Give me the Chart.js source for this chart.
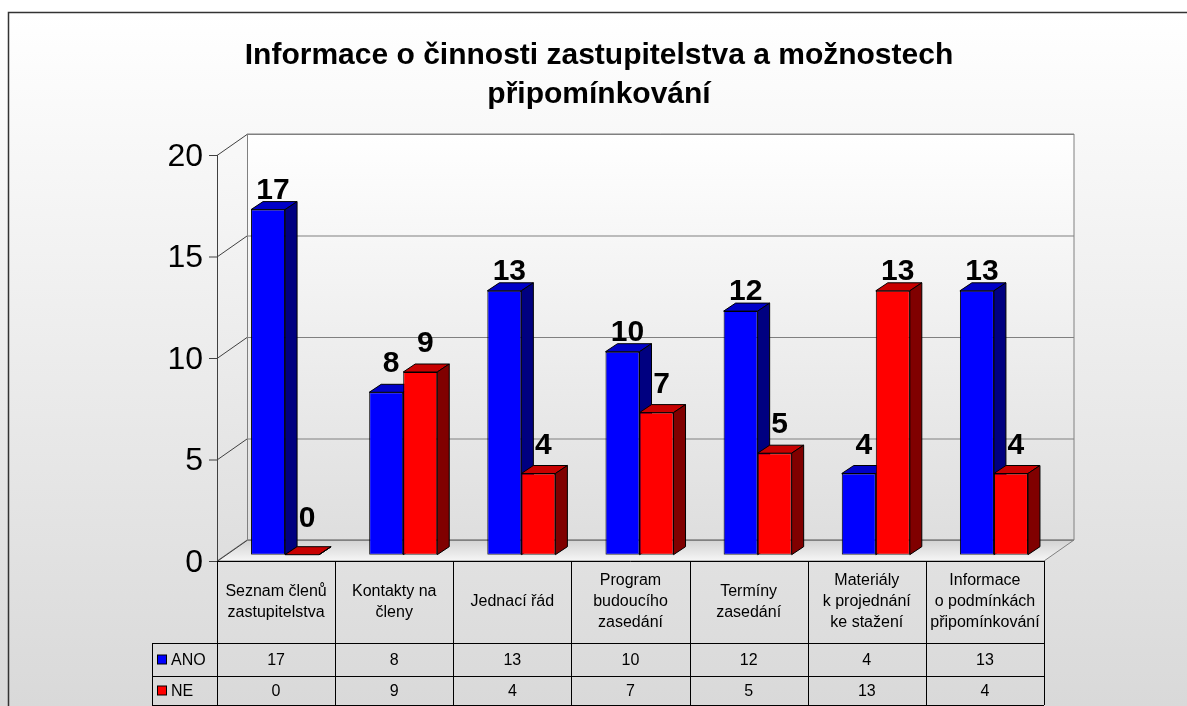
<!DOCTYPE html>
<html>
<head>
<meta charset="utf-8">
<script src="https://cdn.jsdelivr.net/npm/chart.js@4.4.1/dist/chart.umd.min.js"></script>
<style>
  body { margin: 0; background: #fff; }
  canvas { display: block; }
</style>
</head>
<body>
<canvas id="chart" width="1187" height="706"></canvas>
<script>
// --- data ---
const categories = [
  ['Seznam členů', 'zastupitelstva'],
  ['Kontakty na', 'členy'],
  ['Jednací řád'],
  ['Program', 'budoucího', 'zasedání'],
  ['Termíny', 'zasedání'],
  ['Materiály', 'k projednání', 'ke stažení'],
  ['Informace', 'o podmínkách', 'připomínkování']
];
const anoValues = [17, 8, 13, 10, 12, 4, 13];
const neValues = [0, 9, 4, 7, 5, 13, 4];
const yTicks = [0, 5, 10, 15, 20];
const titleLines = ['Informace o činnosti zastupitelstva a možnostech', 'připomínkování'];

const FONT = '"Liberation Sans", Arial, sans-serif';

// 3D look: offsets in px
const WALL_DX = 30, WALL_DY = -21;     // front plane -> back wall
const BAR_OFF_X = 9, BAR_OFF_Y = -6.3; // front plane -> bar front face
const BAR_DX = 12, BAR_DY = -8;        // bar depth

const faceColors = [
  { front: '#0000ff', top: '#0000c8', side: '#000080' },
  { front: '#ff0000', top: '#c80000', side: '#800000' }
];

function poly(ctx, pts, fill, stroke) {
  ctx.beginPath();
  ctx.moveTo(pts[0][0], pts[0][1]);
  for (let i = 1; i < pts.length; i++) ctx.lineTo(pts[i][0], pts[i][1]);
  ctx.closePath();
  if (fill) { ctx.fillStyle = fill; ctx.fill(); }
  if (stroke) { ctx.strokeStyle = stroke; ctx.lineWidth = 1; ctx.stroke(); }
}

function line(ctx, x0, y0, x1, y1, color, w) {
  ctx.beginPath();
  ctx.moveTo(x0, y0);
  ctx.lineTo(x1, y1);
  ctx.strokeStyle = color;
  ctx.lineWidth = w || 1;
  ctx.stroke();
}

// front plane helpers
function geom(chart) {
  const ca = chart.chartArea;
  const y = chart.scales.y;
  const fx0 = ca.left - BAR_OFF_X, fx1 = ca.right - BAR_OFF_X;
  const fy = v => y.getPixelForValue(v) - BAR_OFF_Y;
  return { fx0, fx1, fy, bx0: fx0 + WALL_DX, bx1: fx1 + WALL_DX, by: v => fy(v) + WALL_DY };
}

const plot3d = {
  id: 'plot3d',
  beforeDraw(chart) {
    const { ctx, width, height } = chart;
    ctx.save();
    const bg = ctx.createLinearGradient(0, 12, 0, height);
    bg.addColorStop(0, '#ffffff');
    bg.addColorStop(1, '#d9d9d9');
    ctx.fillStyle = bg;
    ctx.fillRect(0, 0, width, height);

    ctx.beginPath();
    ctx.moveTo(8.5, height + 2);
    ctx.lineTo(8.5, 12.5);
    ctx.lineTo(width + 2, 12.5);
    ctx.strokeStyle = '#333';
    ctx.lineWidth = 1.5;
    ctx.stroke();

    ctx.fillStyle = '#000';
    ctx.font = 'bold 30px ' + FONT;
    ctx.textAlign = 'center';
    ctx.textBaseline = 'alphabetic';
    titleLines.forEach((t, i) => ctx.fillText(t, 599, 64 + i * 39));
    ctx.restore();
  },

  beforeDatasetsDraw(chart) {
    const { ctx } = chart;
    const g = geom(chart);
    const vMax = yTicks[yTicks.length - 1], vMin = yTicks[0];
    ctx.save();

    // back wall
    const wg = ctx.createLinearGradient(0, g.by(vMax), 0, g.by(vMin));
    wg.addColorStop(0, '#ffffff');
    wg.addColorStop(1, '#dedede');
    poly(ctx, [[g.bx0, g.by(vMax)], [g.bx1, g.by(vMax)], [g.bx1, g.by(vMin)], [g.bx0, g.by(vMin)]], wg, '#808080');

    // side wall
    const sg = ctx.createLinearGradient(0, g.fy(vMax), 0, g.fy(vMin));
    sg.addColorStop(0, '#f8f8f8');
    sg.addColorStop(1, '#dedede');
    poly(ctx, [[g.fx0, g.fy(vMax)], [g.bx0, g.by(vMax)], [g.bx0, g.by(vMin)], [g.fx0, g.fy(vMin)]], sg, null);

    // floor
    const fg = ctx.createLinearGradient(0, g.by(vMin), 0, g.fy(vMin));
    fg.addColorStop(0, '#d2d2d2');
    fg.addColorStop(1, '#f6f6f6');
    poly(ctx, [[g.fx0, g.fy(vMin)], [g.fx1, g.fy(vMin)], [g.bx1, g.by(vMin)], [g.bx0, g.by(vMin)]], fg, '#808080');

    // gridlines + ticks
    yTicks.forEach(v => {
      line(ctx, g.bx0, g.by(v) + 0.5, g.bx1, g.by(v) + 0.5, '#808080', 1.2);
      line(ctx, g.fx0, g.fy(v) + 0.5, g.bx0, g.by(v) + 0.5, '#404040', 1);
      line(ctx, g.fx0 - 8, g.fy(v) + 0.5, g.fx0, g.fy(v) + 0.5, '#404040', 1);
    });
    line(ctx, g.bx0 + 0.5, g.by(vMax), g.bx0 + 0.5, g.by(vMin), '#808080', 1);
    line(ctx, g.fx0 + 0.5, g.fy(vMax), g.fx0 + 0.5, g.fy(vMin), '#404040', 1);

    // tick labels
    ctx.fillStyle = '#000';
    ctx.font = '32px ' + FONT;
    ctx.textAlign = 'right';
    ctx.textBaseline = 'middle';
    yTicks.forEach(v => ctx.fillText(String(v), g.fx0 - 14, g.fy(v) + 2));

    // bar tops and sides (fronts drawn by Chart.js)
    chart.data.datasets.forEach((ds, di) => {
      const c = faceColors[di];
      chart.getDatasetMeta(di).data.forEach(el => {
        const l = el.x - el.width / 2, r = el.x + el.width / 2;
        poly(ctx, [[l, el.y], [l + BAR_DX, el.y + BAR_DY], [r + BAR_DX, el.y + BAR_DY], [r, el.y]], c.top, '#000');
        poly(ctx, [[r, el.y], [r + BAR_DX, el.y + BAR_DY], [r + BAR_DX, el.base + BAR_DY], [r, el.base]], c.side, '#000');
      });
    });
    ctx.restore();
  },

  afterDatasetsDraw(chart) {
    const { ctx } = chart;
    ctx.save();
    ctx.fillStyle = '#000';
    ctx.font = 'bold 30px ' + FONT;
    ctx.textAlign = 'center';
    ctx.textBaseline = 'alphabetic';
    chart.data.datasets.forEach((ds, di) => {
      chart.getDatasetMeta(di).data.forEach((el, i) => {
        const v = ds.data[i];
        const gap = v >= 10 ? 3 : (v > 0 ? 12 : 20);
        ctx.fillText(String(v), el.x + 5, el.y + BAR_DY - gap);
      });
    });
    ctx.restore();
  },

  afterDraw(chart) {
    const { ctx } = chart;
    const g = geom(chart);
    const xs = chart.scales.x;
    const half = (g.fx1 - g.fx0) / categories.length / 2;
    const yHead = g.fy(0), yAno = yHead + 82, yNe = yAno + 33, yEnd = yNe + 29;
    const legX = 152;
    ctx.save();

    // grid
    [yHead, yAno, yNe, yEnd].forEach((yy, k) =>
      line(ctx, k === 0 ? g.fx0 : legX, Math.round(yy) + 0.5, g.fx1, Math.round(yy) + 0.5, '#000', 1));
    line(ctx, legX + 0.5, yAno, legX + 0.5, yEnd, '#000', 1);
    for (let i = 0; i <= categories.length; i++) {
      const x = Math.round(g.fx0 + i * half * 2) + 0.5;
      line(ctx, x, yHead, x, yEnd, '#000', 1);
    }

    ctx.fillStyle = '#000';
    ctx.font = '16px ' + FONT;
    ctx.textAlign = 'center';
    ctx.textBaseline = 'middle';
    categories.forEach((lines, i) => {
      const cx = xs.getPixelForValue(i) - BAR_OFF_X;
      const mid = (yHead + yAno) / 2;
      lines.forEach((t, k) => ctx.fillText(t, cx, mid + (k - (lines.length - 1) / 2) * 21));
      ctx.fillText(String(anoValues[i]), cx, (yAno + yNe) / 2 + 1);
      ctx.fillText(String(neValues[i]), cx, (yNe + yEnd) / 2 + 1);
    });

    // legend keys
    chart.data.datasets.forEach((ds, di) => {
      const rowMid = di === 0 ? (yAno + yNe) / 2 : (yNe + yEnd) / 2;
      ctx.fillStyle = faceColors[di].front;
      ctx.fillRect(157.5, rowMid - 4.5, 9, 9);
      ctx.strokeStyle = '#000';
      ctx.lineWidth = 1;
      ctx.strokeRect(157.5, rowMid - 4.5, 9, 9);
      ctx.fillStyle = '#000';
      ctx.textAlign = 'left';
      ctx.fillText(ds.label, 171, rowMid + 1);
    });
    ctx.restore();
  }
};

new Chart(document.getElementById('chart'), {
  type: 'bar',
  data: {
    labels: categories,
    datasets: [
      { label: 'ANO', data: anoValues, backgroundColor: faceColors[0].front },
      { label: 'NE', data: neValues, backgroundColor: faceColors[1].front }
    ]
  },
  options: {
    responsive: false,
    animation: false,
    datasets: {
      bar: {
        borderColor: '#000',
        borderWidth: 1,
        borderSkipped: false,
        categoryPercentage: 0.576,
        barPercentage: 1
      }
    },
    layout: { padding: { left: 226, right: 134, top: 148.7, bottom: 151.3 } },
    scales: {
      x: { display: false },
      y: { display: false, min: 0, max: 20 }
    },
    plugins: {
      legend: { display: false },
      tooltip: { enabled: false }
    }
  },
  plugins: [plot3d]
});
</script>
</body>
</html>
